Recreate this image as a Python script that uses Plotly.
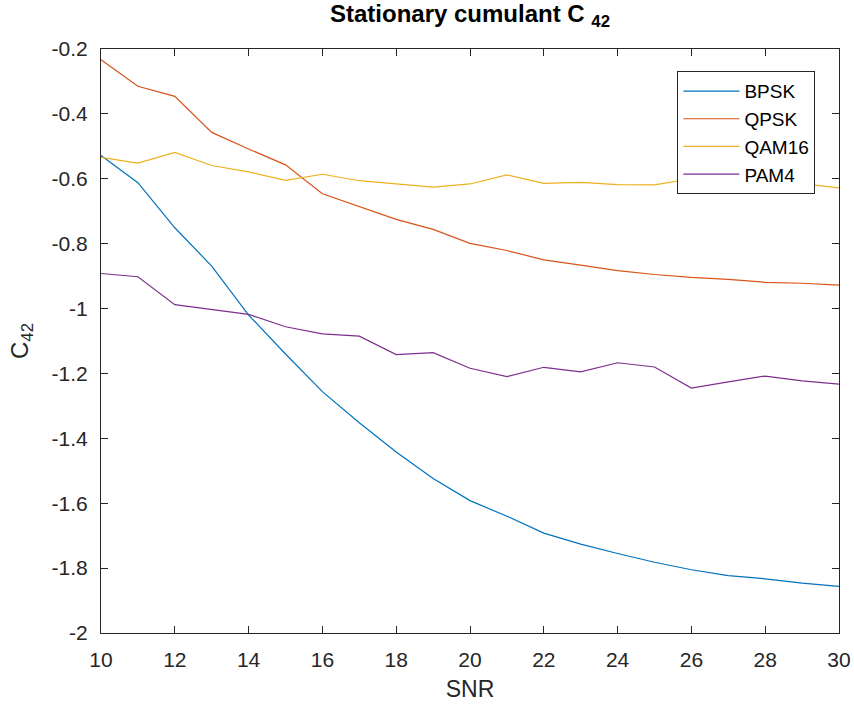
import plotly.graph_objects as go

snr = list(range(10, 31))
bpsk = [-0.528, -0.612, -0.751, -0.869, -1.020, -1.140, -1.256, -1.352, -1.442, -1.524, -1.592,
        -1.640, -1.692, -1.726, -1.755, -1.782, -1.805, -1.823, -1.833, -1.846, -1.856]
qpsk = [-0.233, -0.315, -0.346, -0.457, -0.508, -0.557, -0.646, -0.686, -0.725, -0.756, -0.799,
        -0.821, -0.850, -0.866, -0.883, -0.895, -0.904, -0.910, -0.919, -0.922, -0.928]
qam16 = [-0.534, -0.552, -0.519, -0.559, -0.579, -0.605, -0.586, -0.606, -0.616, -0.626, -0.616,
         -0.588, -0.614, -0.611, -0.618, -0.619, -0.600, -0.598, -0.605, -0.615, -0.628]
pam4 = [-0.892, -0.902, -0.988, -1.002, -1.018, -1.056, -1.078, -1.085, -1.142, -1.136, -1.184,
        -1.210, -1.181, -1.195, -1.167, -1.180, -1.245, -1.226, -1.208, -1.223, -1.233]

names = ["BPSK", "QPSK", "QAM16", "PAM4"]
colors = ["#0072BD", "#D95319", "#EDB120", "#7E2F8E"]
series = [bpsk, qpsk, qam16, pam4]

fig = go.Figure()
for n, c, s in zip(names, colors, series):
    fig.add_trace(go.Scatter(x=snr, y=s, mode="lines", name=n,
                             line=dict(color=c, width=1.2)))

axis_common = dict(showline=True, linecolor="#262626", linewidth=1, mirror="ticks",
                   ticks="inside", ticklen=7, tickcolor="#262626", showgrid=False,
                   zeroline=False, automargin=False,
                   tickfont=dict(size=21, color="#262626"))

fig.update_layout(
    width=854, height=707,
    paper_bgcolor="white", plot_bgcolor="white",
    font=dict(family="Liberation Sans, Arial, sans-serif", color="#262626"),
    margin=dict(l=101, r=15, t=49, b=74),
    title=dict(text="<b>Stationary cumulant C <sub>42</sub></b>", x=0.5, xref="paper",
               xanchor="center", y=0.993, yanchor="top", font=dict(size=24, color="black")),
    xaxis=dict(range=[10, 30], tickvals=list(range(10, 31, 2)), ticklabelstandoff=8,
               title=dict(text="SNR", font=dict(size=23), standoff=10), **axis_common),
    yaxis=dict(range=[-2, -0.2], tickvals=[-2, -1.8, -1.6, -1.4, -1.2, -1, -0.8, -0.6, -0.4, -0.2],
               ticktext=["-2", "-1.8", "-1.6", "-1.4", "-1.2", "-1", "-0.8", "-0.6", "-0.4", "-0.2"],
               ticklabelstandoff=8,
               title=dict(text="C<sub>42</sub>", font=dict(size=24), standoff=16), **axis_common),
    legend=dict(x=0.781, y=0.962, xanchor="left", yanchor="top", bgcolor="white",
                bordercolor="#262626", borderwidth=1, font=dict(size=19, color="black"),
                itemwidth=56, tracegroupgap=0),
    showlegend=True,
)

fig.write_html("out.html")
